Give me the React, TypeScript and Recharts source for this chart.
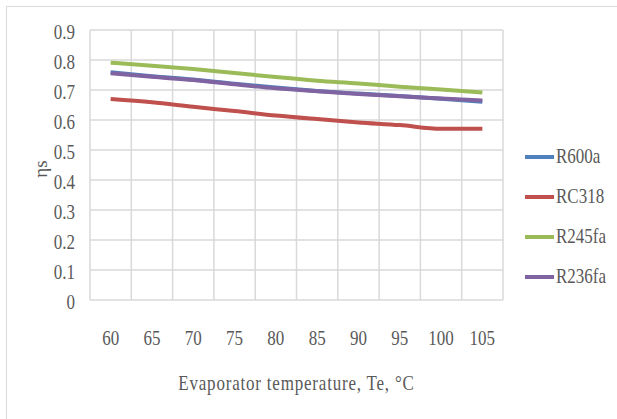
import React from "react";
import {
  LineChart,
  Line,
  XAxis,
  YAxis,
  CartesianGrid,
  ReferenceLine,
  Legend,
  Label,
} from "recharts";

const temps = [60, 65, 70, 75, 80, 85, 90, 95, 100, 105];
const r600a = [0.759, 0.746, 0.735, 0.721, 0.708, 0.697, 0.688, 0.68, 0.671, 0.661];
const rc318 = [0.67, 0.659, 0.644, 0.63, 0.615, 0.603, 0.592, 0.583, 0.571, 0.571];
const r245fa = [0.791, 0.781, 0.77, 0.757, 0.743, 0.731, 0.722, 0.711, 0.702, 0.692];
const r236fa = [0.756, 0.744, 0.733, 0.719, 0.706, 0.696, 0.687, 0.679, 0.672, 0.665];

const yTicks = [0, 0.1, 0.2, 0.3, 0.4, 0.5, 0.6, 0.7, 0.8, 0.9];
const yTickLabels = ["0", "0.1", "0.2", "0.3", "0.4", "0.5", "0.6", "0.7", "0.8", "0.9"];
const xBounds = [57.5, 62.5, 67.5, 72.5, 77.5, 82.5, 87.5, 92.5, 97.5, 102.5, 107.5];

const seriesNames = ["R600a", "RC318", "R245fa", "R236fa"];
const seriesColors = ["#4F81BD", "#C0504D", "#9BBB59", "#8064A2"];
const seriesValues = [r600a, rc318, r245fa, r236fa];

const data = temps.map((t, i) => {
  const row: Record<string, number> = { T: t };
  seriesNames.forEach((n, k) => {
    row[n] = seriesValues[k][i];
  });
  return row;
});

const FONT = "Liberation Serif";
const TEXT = "#595959";
const GRID = "#d9d9d9";
const SY = 1.2;
const LEGEND_W = 92;

const YTick = (props: any) => {
  const { x, y, payload } = props;
  const idx = yTicks.indexOf(payload.value);
  const label = idx >= 0 ? yTickLabels[idx] : String(payload.value);
  return (
    <g transform={`translate(${x},${y + 2}) scale(1,${SY})`}>
      <text x={0} y={0} dy="0.35em" textAnchor="end" fill={TEXT} fontSize={17} style={{ fontFamily: FONT }}>
        {label}
      </text>
    </g>
  );
};

const XTick = (props: any) => {
  const { x, y, payload } = props;
  return (
    <g transform={`translate(${x},${y + 38}) scale(1,${SY})`}>
      <text x={0} y={0} dy="0.35em" textAnchor="middle" fill={TEXT} fontSize={17} style={{ fontFamily: FONT }}>
        {String(payload.value)}
      </text>
    </g>
  );
};

const LegendContent = () => {
  return (
    <div style={{ width: LEGEND_W }}>
      {seriesNames.map((n, i) => (
        <div key={n} style={{ height: 40, display: "flex", alignItems: "center" }}>
          <svg width={29} height={6} style={{ display: "block" }}>
            <line x1={0} y1={3} x2={29} y2={3} stroke={seriesColors[i]} strokeWidth={4} />
          </svg>
          <span
            style={{
              marginLeft: 2,
              fontFamily: FONT,
              fontSize: 17,
              color: TEXT,
              display: "inline-block",
              transform: `scaleY(${SY})`,
              lineHeight: "20px",
            }}
          >
            {n}
          </span>
        </div>
      ))}
    </div>
  );
};

export default function App() {
  return (
    <div
      style={{
        position: "absolute",
        left: 0,
        top: 0,
        width: 617,
        height: 419,
        background: "#ffffff",
        overflow: "hidden",
      }}
    >
      <div
        style={{
          position: "absolute",
          left: 6,
          top: 6,
          width: 700,
          height: 500,
          borderTop: `1.5px solid ${GRID}`,
          borderLeft: `1.5px solid ${GRID}`,
        }}
      />
      <div style={{ position: "absolute", left: 0, top: 0 }}>
        <LineChart
          width={617}
          height={419}
          data={data}
          margin={{ top: 30, right: 114 - LEGEND_W, bottom: 79, left: 30 }}
        >
          <CartesianGrid vertical={false} stroke={GRID} strokeWidth={1.5} />
          {xBounds.map((b) => (
            <ReferenceLine key={b} x={b} stroke={GRID} strokeWidth={1.5} ifOverflow="extendDomain" />
          ))}
          <XAxis
            dataKey="T"
            type="number"
            domain={[57.5, 107.5]}
            ticks={temps}
            axisLine={false}
            tickLine={false}
            tickSize={0}
            tickMargin={0}
            height={40}
            tick={<XTick />}
            interval={0}
          >
            <Label
              content={(p: any) => {
                const vb = p.viewBox || {};
                const cx = vb.x + vb.width / 2;
                return (
                  <g transform={`translate(${cx},383) scale(1,${SY})`}>
                    <text
                      x={0}
                      y={0}
                      dy="0.35em"
                      textAnchor="middle"
                      fill={TEXT}
                      fontSize={17}
                      style={{ fontFamily: FONT }}
                      letterSpacing={0.8}
                    >
                      Evaporator temperature, Te, °C
                    </text>
                  </g>
                );
              }}
            />
          </XAxis>
          <YAxis
            type="number"
            domain={[0, 0.9]}
            ticks={yTicks}
            axisLine={false}
            tickLine={false}
            tickSize={0}
            tickMargin={15}
            width={60}
            tick={<YTick />}
            interval={0}
          >
            <Label
              content={(p: any) => {
                const vb = p.viewBox || {};
                const cy = vb.y + vb.height / 2 + 4;
                return (
                  <g transform={`translate(40,${cy}) rotate(-90)`}>
                    <text
                      x={0}
                      y={0}
                      dy="0.35em"
                      textAnchor="middle"
                      fill={TEXT}
                      fontSize={19}
                      style={{ fontFamily: FONT }}
                    >
                      ηs
                    </text>
                  </g>
                );
              }}
            />
          </YAxis>
          <Legend
            layout="horizontal"
            verticalAlign="middle"
            align="right"
            wrapperStyle={{ left: 525, top: 137, width: LEGEND_W }}
            content={<LegendContent />}
          />
          {seriesNames.map((n, k) => (
            <Line
              key={n}
              dataKey={n}
              name={n}
              type="monotone"
              stroke={seriesColors[k]}
              strokeWidth={4}
              dot={false}
              activeDot={false}
              isAnimationActive={false}
            />
          ))}
        </LineChart>
      </div>
    </div>
  );
}
